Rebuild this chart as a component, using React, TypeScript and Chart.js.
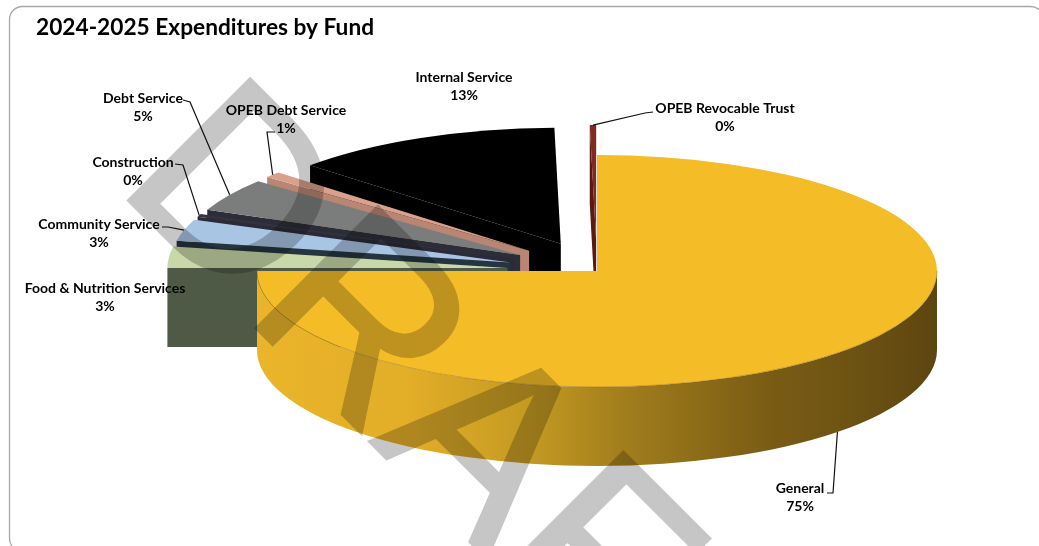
import { useEffect, useRef } from "react";
import { Chart, registerables } from "chart.js";

Chart.register(...registerables);

const categories = [
  "General",
  "Food & Nutrition Services",
  "Community Service",
  "Construction",
  "Debt Service",
  "OPEB Debt Service",
  "Internal Service",
  "OPEB Revocable Trust",
];
const expenditureShare = [75, 3, 3, 0.4, 4.6, 0.8, 12.9, 0.3];

const topColors = ["#f4bc27", "#c9d8a8", "#a9c5e4", "#33333f", "#7b7d7d", "#d9a08c", "#000000", "#7f2a22"];
const wallColors = ["#8a6a18", "#4e5a46", "#25343e", "#2a2a38", "#2b2d38", "#b98674", "#000000", "#5a1a12"];
const explode = [0, 90, 90, 90, 90, 90, 88, 88];

// Label centres and the elbow each leader line bends at (null means no leader).
const labelCentres = [
  [800, 488], [105, 288], [99, 224], [133, 162], [143, 98], [286, 110], [464, 77], [725, 108],
];
const leaderStarts = [
  [827, 493], null, [162, 227], [175, 164], [183, 100], [275, 132], null, [653, 112],
];
const leaderElbows = [
  [833, 493], null, [168, 227], [183, 165], [190, 102], [267, 132], null, [645, 113],
];

const TILT = 0.341;
const DEPTH = 79;
const RADIUS = 340;
const FONT = "Lato, 'Open Sans', sans-serif";

type Arc = any;

function geometry(arc: Arc) {
  const p = arc.getProps(["x", "y", "startAngle", "endAngle", "outerRadius"]);
  const mid = (p.startAngle + p.endAngle) / 2;
  const off = arc.options.offset || 0;
  return {
    start: p.startAngle,
    end: p.endAngle,
    mid,
    r: p.outerRadius,
    tx: p.x + off * Math.cos(mid),
    ty: p.y + off * Math.sin(mid) * TILT,
  };
}

function rimPoint(g: ReturnType<typeof geometry>, a: number) {
  return [g.tx + g.r * Math.cos(a), g.ty + g.r * TILT * Math.sin(a)];
}

// Extrudes the cut face and the visible outer rim of one slice, then fills its top.
function drawSlice(ctx: CanvasRenderingContext2D, arc: Arc, i: number) {
  const g = geometry(arc);
  const [sx, sy] = rimPoint(g, g.start);

  ctx.fillStyle = wallColors[i];
  if (i !== 0) {
    ctx.beginPath();
    ctx.moveTo(g.tx, g.ty);
    ctx.lineTo(sx, sy);
    ctx.lineTo(sx, sy + DEPTH);
    ctx.lineTo(g.tx, g.ty + DEPTH);
    ctx.closePath();
    ctx.fill();
  }

  const from = Math.max(g.start, 0);
  const to = Math.min(g.end, Math.PI);
  if (to > from) {
    const shade = ctx.createLinearGradient(g.tx - g.r, 0, g.tx + g.r, 0);
    shade.addColorStop(0, "#eab52a");
    shade.addColorStop(0.22, "#e3ae28");
    shade.addColorStop(0.4, "#c49a22");
    shade.addColorStop(0.55, "#9f7c1c");
    shade.addColorStop(0.75, "#7a5c14");
    shade.addColorStop(0.9, "#6a5012");
    shade.addColorStop(1, "#5c4510");
    ctx.fillStyle = shade;
    ctx.beginPath();
    ctx.ellipse(g.tx, g.ty, g.r, g.r * TILT, 0, from, to);
    ctx.ellipse(g.tx, g.ty + DEPTH, g.r, g.r * TILT, 0, to, from, true);
    ctx.closePath();
    ctx.fill();
  }

  ctx.fillStyle = topColors[i];
  ctx.beginPath();
  ctx.moveTo(g.tx, g.ty);
  ctx.ellipse(g.tx, g.ty, g.r, g.r * TILT, 0, g.start, g.end);
  ctx.closePath();
  ctx.fill();

  if (to > from) {
    ctx.strokeStyle = "rgba(110,85,30,0.35)";
    ctx.lineWidth = 1;
    ctx.beginPath();
    ctx.ellipse(g.tx, g.ty, g.r, g.r * TILT, 0, from, to);
    ctx.stroke();
  }
}

const pie3d = {
  id: "pie3d",
  beforeDatasetsDraw(chart: Chart) {
    const ctx = chart.ctx;
    const arcs = chart.getDatasetMeta(0).data as Arc[];
    ctx.save();
    for (let i = arcs.length - 1; i >= 0; i--) drawSlice(ctx, arcs[i], i);
    ctx.restore();
    return false;
  },
  afterDraw(chart: Chart) {
    const ctx = chart.ctx;
    const arcs = chart.getDatasetMeta(0).data as Arc[];
    const total = expenditureShare.reduce((a, b) => a + b, 0);

    ctx.save();
    ctx.strokeStyle = "#a8a8a8";
    ctx.lineWidth = 1.3;
    ctx.beginPath();
    ctx.roundRect(9.5, 6.5, 1034, 545, 13);
    ctx.stroke();

    ctx.fillStyle = "#000";
    ctx.textBaseline = "alphabetic";
    ctx.textAlign = "left";
    ctx.font = `bold 22.7px ${FONT}`;
    ctx.fillText("2024-2025 Expenditures by Fund", 36, 35);

    // Leader lines end on the slice rim at its middle angle.
    ctx.strokeStyle = "#111";
    ctx.lineWidth = 1.2;
    arcs.forEach((arc, i) => {
      const s = leaderStarts[i];
      const e = leaderElbows[i];
      if (!s || !e) return;
      const g = geometry(arc);
      const [rx, ry] = rimPoint(g, g.mid);
      const front = Math.sin(g.mid) > 0;
      ctx.beginPath();
      ctx.moveTo(s[0], s[1]);
      ctx.lineTo(e[0], e[1]);
      ctx.lineTo(rx, ry + (front ? DEPTH : 0));
      ctx.stroke();
    });

    ctx.textAlign = "center";
    ctx.textBaseline = "middle";
    ctx.font = `bold 14px ${FONT}`;
    categories.forEach((name, i) => {
      const [x, y] = labelCentres[i];
      ctx.fillText(name, x, y);
      ctx.fillText(`${Math.round((expenditureShare[i] / total) * 100)}%`, x, y + 18.5);
    });

    // Diagonal watermark: filled and stroked on its own layer, then multiplied in.
    const layer = document.createElement("canvas");
    layer.width = chart.width;
    layer.height = chart.height;
    const w = layer.getContext("2d")!;
    w.translate(114, 186);
    w.rotate(Math.PI / 4);
    w.font = "250px 'Liberation Sans'";
    w.textAlign = "left";
    w.textBaseline = "alphabetic";
    w.fillStyle = "#c6c6c6";
    w.strokeStyle = "#c6c6c6";
    w.lineWidth = 3;
    w.lineJoin = "miter";
    w.fillText("DRAFT", 0, 0);
    w.strokeText("DRAFT", 0, 0);
    ctx.globalCompositeOperation = "multiply";
    ctx.drawImage(layer, 0, 0);
    ctx.restore();
  },
};

export default function App() {
  const ref = useRef<HTMLCanvasElement>(null);
  useEffect(() => {
    const chart = new Chart(ref.current!, {
      type: "pie",
      data: {
        labels: categories,
        datasets: [
          {
            data: expenditureShare,
            backgroundColor: topColors,
            borderWidth: 0,
            offset: explode,
          },
        ],
      },
      options: {
        animation: false,
        responsive: false,
        radius: RADIUS,
        layout: { padding: { left: 155, right: 0, top: 0, bottom: 4 } },
        plugins: { legend: { display: false }, tooltip: { enabled: false } },
      } as any,
      plugins: [pie3d as any],
    });
    return () => chart.destroy();
  }, []);
  return (
    <canvas
      ref={ref}
      width={1039}
      height={546}
      style={{ position: "fixed", left: 0, top: 0, display: "block", background: "#fff" }}
    />
  );
}
